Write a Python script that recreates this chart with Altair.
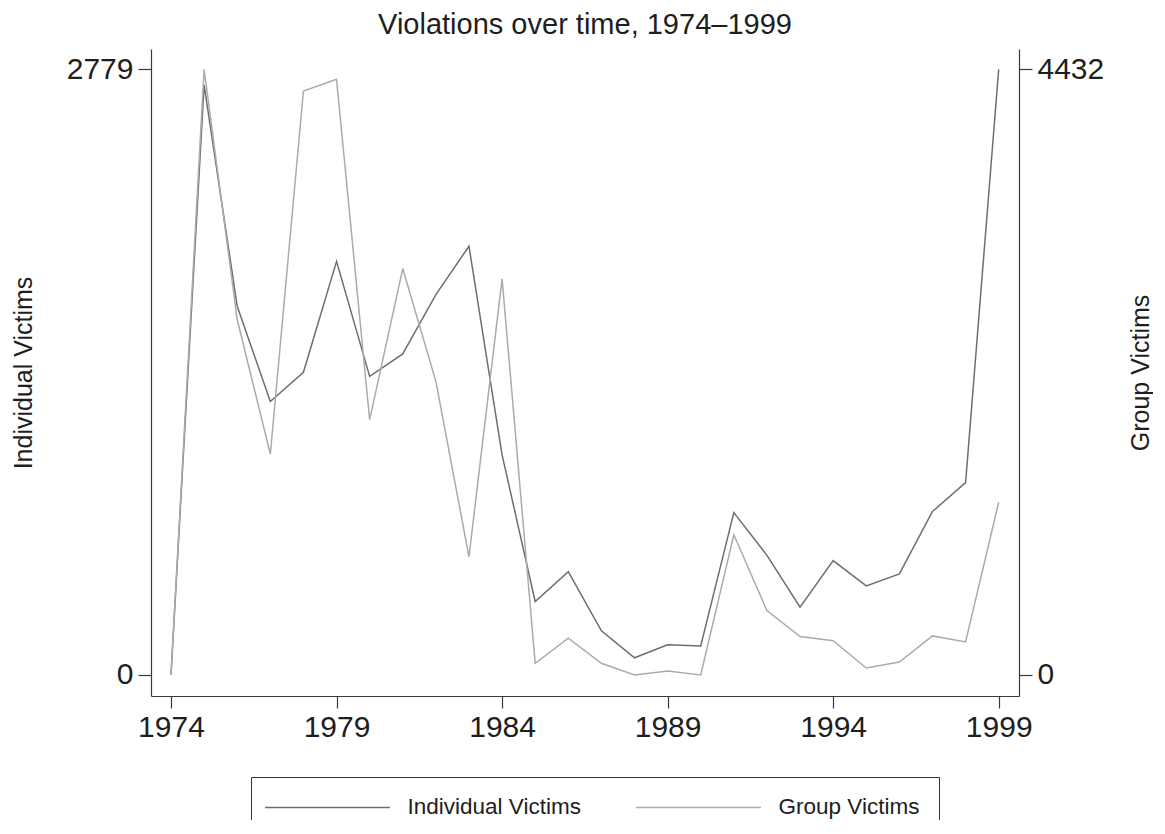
import altair as alt
import pandas as pd

years = [1974, 1975, 1976, 1977, 1978, 1979, 1980, 1981, 1982, 1983, 1984, 1985, 1986,
         1987, 1988, 1989, 1990, 1991, 1992, 1993, 1994, 1995, 1996, 1997, 1998, 1999]
individual = [0, 2707, 1692, 1255, 1389, 1898, 1370, 1473, 1745, 1967, 1010, 337, 474,
              203, 79, 139, 133, 745, 549, 311, 525, 409, 464, 750, 883, 2779]
group = [0, 4432, 2601, 1617, 4273, 4359, 1868, 2974, 2149, 865, 2899, 86, 269,
         86, 0, 29, 0, 1026, 471, 281, 251, 51, 95, 286, 242, 1265]
series_names = ["Individual Victims", "Group Victims"]
series_colors = ["#6e6e6e", "#ababab"]
x_ticks = [1974, 1979, 1984, 1989, 1994, 1999]
left_ticks = [0, 2779]
right_ticks = [0, 4432]

df = pd.DataFrame({"year": years, "individual": individual, "group": group})

FONT = "Liberation Sans"
TXT = "#1e1e1e"
AX = "#3a3a3a"

color_scale = alt.Scale(domain=series_names, range=series_colors)

x_enc = alt.X(
    "year:Q",
    scale=alt.Scale(domain=[1973.396, 1999.613], nice=False, zero=False),
    axis=alt.Axis(values=x_ticks, format="d", title=None, tickSize=12,
                  labelPadding=4, labelFontSize=30, labelFlush=False, grid=False),
)

legend = alt.Legend(
    title=None, orient="none", legendX=100, legendY=728, direction="horizontal",
    columns=2, symbolType="M-2.6,0H17.4", symbolSize=156, symbolStrokeWidth=1.5,
    labelOffset=115, columnPadding=52, padding=19, strokeColor="#333333",
    fillColor="white", labelFontSize=22.5, labelFont=FONT, labelColor=TXT,
    labelLimit=400,
)

left = alt.Chart(df).transform_calculate(series="'Individual Victims'").mark_line(strokeWidth=1.5).encode(
    x=x_enc,
    y=alt.Y(
        "individual:Q",
        scale=alt.Scale(domain=[-96.4, 2872], nice=False, zero=False),
        axis=alt.Axis(orient="left", values=left_ticks, format="d", title="Individual Victims",
                      tickSize=13, labelPadding=5, labelFontSize=30, grid=False,
                      titleFontSize=25, titleAngle=270, titleX=-120, titleY=323.5,
                      titleBaseline="alphabetic", titleAlign="center"),
    ),
    color=alt.Color("series:N", scale=color_scale, legend=legend),
)

right = alt.Chart(df).transform_calculate(series="'Group Victims'").mark_line(strokeWidth=1.5).encode(
    x=x_enc,
    y=alt.Y(
        "group:Q",
        scale=alt.Scale(domain=[-153.7, 4580.5], nice=False, zero=False),
        axis=alt.Axis(orient="right", values=right_ticks, format="d", title="Group Victims",
                      tickSize=13, labelPadding=5, labelFontSize=30, grid=False,
                      titleFontSize=25, titleAngle=270, titleX=129.6, titleY=323.5,
                      titleBaseline="alphabetic", titleAlign="center"),
    ),
    color=alt.Color("series:N", scale=color_scale, legend=legend),
)

chart = (
    alt.layer(left, right)
    .resolve_scale(y="independent")
    .properties(
        width=868, height=647,
        background="white",
        autosize=alt.AutoSizeParams(type="none"),
        padding={"left": 143, "top": 41, "right": 134, "bottom": 124},
        title=alt.TitleParams(
            "Violations over time, 1974\u20131999", fontSize=29, font=FONT,
            fontWeight="normal", color=TXT, anchor="middle", frame="group",
            baseline="alphabetic", offset=15, dy=29,
        ),
    )
    .configure_view(stroke=None)
    .configure_axis(grid=False, domainColor=AX, tickColor=AX, domainWidth=1.2,
                    tickWidth=1.2, labelFont=FONT, titleFont=FONT, labelColor=TXT,
                    titleColor=TXT, titleFontWeight="normal")
)

chart.save("out.html", embed_options={"renderer": "svg", "actions": False})
